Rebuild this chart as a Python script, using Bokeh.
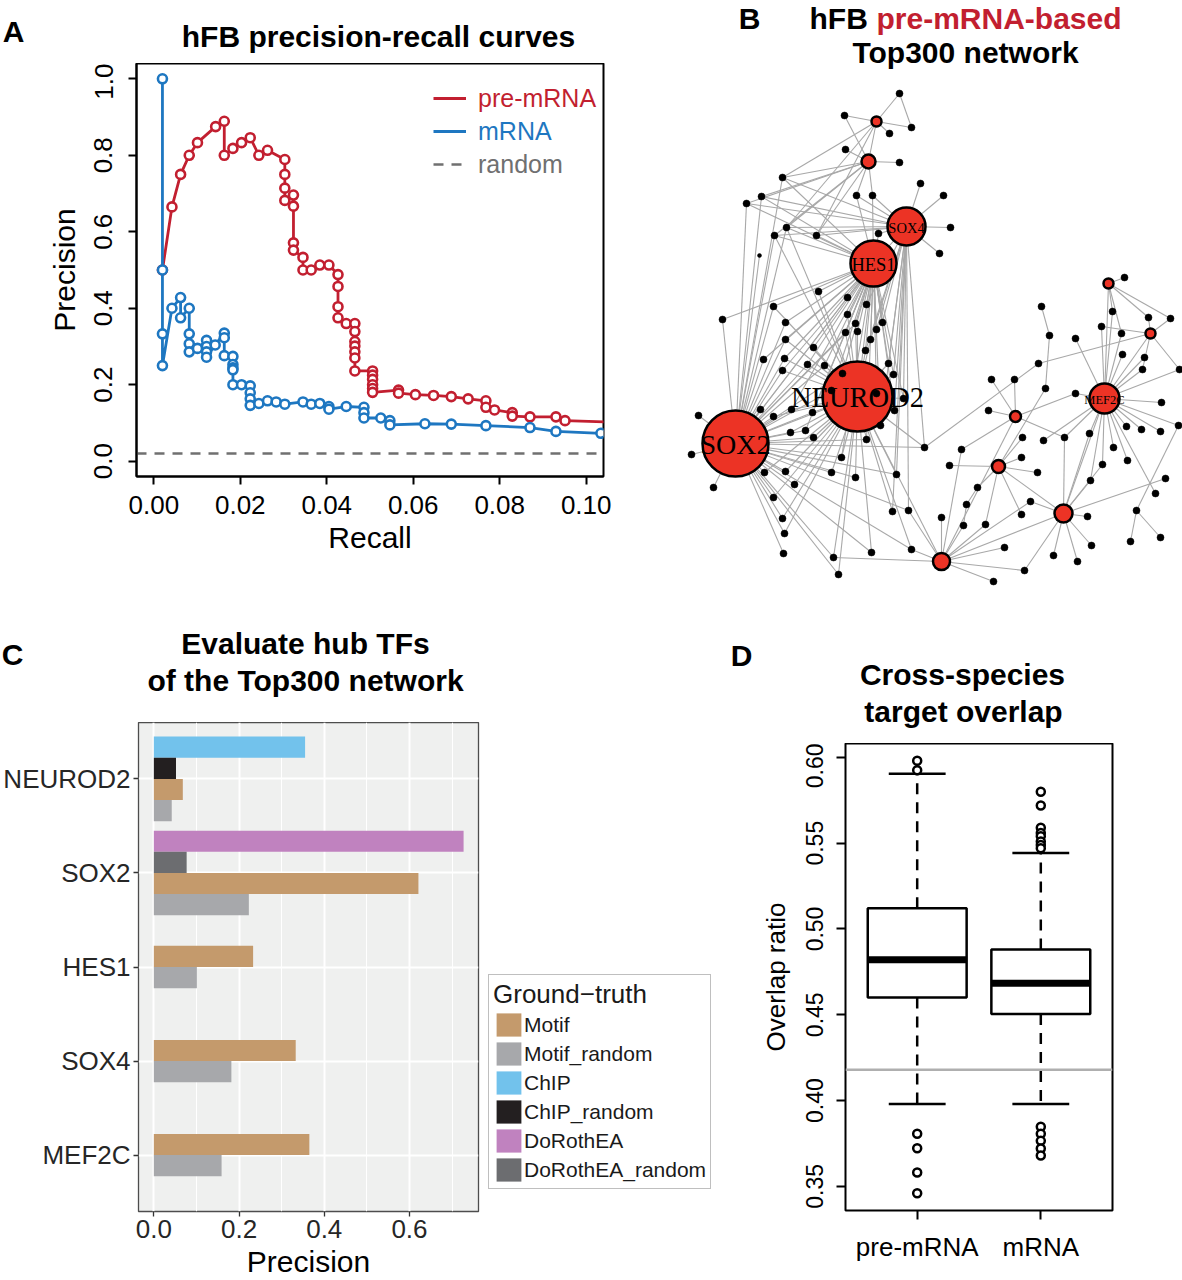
from bokeh.plotting import figure
from bokeh.layouts import row, column
from bokeh.models import (Range1d, FactorRange, FixedTicker, NumeralTickFormatter,
                          Legend, LegendItem, ColumnDataSource, Span)
from bokeh.core.properties import value
from bokeh.embed import file_html
from bokeh.resources import INLINE

SANS = "Liberation Sans"
SERIF = "Liberation Serif"
RED = "#C21F30"
BLUE = "#1E77C1"
GREY = "#707070"

# ---------------- Panel A data ----------------
pre_recall = [0.0020, 0.0042, 0.0062, 0.0082, 0.0101, 0.0143, 0.0163, 0.0163, 0.0183, 0.0203,
              0.0223, 0.0243, 0.0263, 0.0303, 0.0303, 0.0303, 0.0303, 0.0323, 0.0323, 0.0323,
              0.0323, 0.0345, 0.0345, 0.0364, 0.0384, 0.0405, 0.0426, 0.0426, 0.0426, 0.0426,
              0.0445, 0.0465, 0.0465, 0.0465, 0.0465, 0.0465, 0.0465, 0.0465, 0.0506, 0.0506,
              0.0506, 0.0506, 0.0506, 0.0506, 0.0566, 0.0566, 0.0605, 0.0647, 0.0688, 0.0727,
              0.0768, 0.0768, 0.0788, 0.0829, 0.0829, 0.0870, 0.0930, 0.0951, 0.1100]
pre_precision = [0.500, 0.665, 0.750, 0.800, 0.833, 0.875, 0.889, 0.800, 0.818, 0.833,
                 0.846, 0.800, 0.813, 0.789, 0.750, 0.714, 0.682, 0.696, 0.667, 0.571,
                 0.552, 0.533, 0.500, 0.500, 0.513, 0.513, 0.488, 0.457, 0.404, 0.375,
                 0.360, 0.360, 0.339, 0.313, 0.301, 0.286, 0.270, 0.236, 0.236, 0.225,
                 0.214, 0.200, 0.190, 0.180, 0.186, 0.178, 0.174, 0.172, 0.169, 0.163,
                 0.158, 0.141, 0.134, 0.127, 0.118, 0.116, 0.116, 0.106, 0.101]
mrna_recall = [0.0020, 0.0020, 0.0020, 0.0020, 0.0042, 0.0062, 0.0062, 0.0082, 0.0082, 0.0082,
               0.0082, 0.0101, 0.0122, 0.0122, 0.0122, 0.0122, 0.0142, 0.0163, 0.0163, 0.0163,
               0.0183, 0.0183, 0.0183, 0.0183, 0.0183, 0.0203, 0.0223, 0.0223, 0.0223, 0.0223,
               0.0243, 0.0263, 0.0283, 0.0303, 0.0345, 0.0364, 0.0384, 0.0405, 0.0405, 0.0445,
               0.0486, 0.0486, 0.0486, 0.0525, 0.0546, 0.0546, 0.0627, 0.0688, 0.0768, 0.0870,
               0.0930, 0.1034]
mrna_precision = [1.000, 0.500, 0.333, 0.250, 0.400, 0.428, 0.375, 0.400, 0.333, 0.307,
                  0.286, 0.295, 0.316, 0.300, 0.286, 0.272, 0.304, 0.335, 0.323, 0.276,
                  0.274, 0.253, 0.244, 0.239, 0.200, 0.200, 0.197, 0.179, 0.163, 0.146,
                  0.151, 0.158, 0.155, 0.149, 0.155, 0.149, 0.151, 0.143, 0.136, 0.143,
                  0.141, 0.127, 0.113, 0.113, 0.106, 0.095, 0.098, 0.097, 0.093, 0.088,
                  0.078, 0.073]
random_precision = 0.02
recall_ticks = [0.0, 0.02, 0.04, 0.06, 0.08, 0.10]
precision_ticks = [0.0, 0.2, 0.4, 0.6, 0.8, 1.0]
A_XMIN, A_XMAX = -0.004, 0.104
A_YMIN, A_YMAX = -0.04, 1.04

# ---------------- Panel B data (network layout) ----------------
hub_names = ["SOX2", "NEUROD2", "HES1", "SOX4", "MEF2C", "H_top1", "H_top2",
             "H_r1", "H_r2", "H_m1", "H_m2", "H_m3", "H_oxy"]
hub_x = [735, 857, 873, 906, 1104, 876, 868, 1108, 1150, 1015, 998, 1063, 941]
hub_y = [443, 396, 263, 226, 398, 121, 161, 283, 333, 416, 466, 513, 561]
hub_r = [33, 35, 23, 19, 15, 5, 7, 5, 5, 5.5, 6.5, 9, 8.5]
hub_text = ["SOX2", "NEUROD2", "HES1", "SOX4", "MEF2C"]
hub_text_px = [28, 28.5, 18.5, 14.5, 12.5]

sat_names = ["L1", "L2", "L3", "L4", "L5", "L6", "L7", "L8", "L9", "L10",
             "L11", "L12", "L13", "L14", "L15", "L16", "L17", "L18", "L19", "L20",
             "L21", "L22", "L23", "L24", "L25", "L26", "L27", "L28", "L29", "L30",
             "L31", "L32", "L33", "L34", "L35", "L36", "L37", "L38", "L39", "L40",
             "L41", "L42", "L43", "L44", "L45", "L46", "L47", "L48", "L49", "L50",
             "L51", "L52", "L53", "L54", "L55", "L56", "L57", "L58", "L59", "L60",
             "L61", "L62", "L63", "L64", "L65", "L66", "L67", "L68", "L69", "L70",
             "L71", "L72", "L73", "L74", "L75",
             "R1", "R2", "R3", "R4", "R5", "R6", "R7", "R8", "R9", "R10",
             "R11", "R12", "R13", "R14", "R15", "R16", "R17", "R18", "R19", "R20",
             "R21", "R22", "R23", "R24", "R25", "R26", "R27", "R28", "R29", "R30",
             "R31", "R32", "R33", "R34", "R35", "R36", "R37", "R38", "R39", "R40",
             "R41", "R42", "R43", "R44", "R45", "R46", "R47", "R48", "R49", "R50",
             "R51", "R52", "R53", "R54", "R55", "R56", "R57", "R58"]
sat_x = [899, 844, 911, 889, 845, 899, 782, 920, 761, 746,
         856, 872, 786, 774, 816, 878, 759, 818, 847, 866,
         773, 722, 847, 785, 855, 882, 876, 845, 857, 785,
         870, 763, 784, 813, 865, 807, 824, 782, 888, 893,
         842, 831, 876, 903, 894, 760, 791, 773, 812, 880,
         698, 790, 805, 813, 866, 924, 691, 841, 764, 785,
         831, 855, 896, 794, 713, 773, 892, 908, 782, 784,
         783, 833, 871, 911, 838,
         943, 950, 939, 1124, 1041, 1112, 1148, 1170, 1101, 1121,
         1049, 1075, 1122, 1144, 1038, 1142, 1179, 991, 1014, 1045,
         1075, 1161, 988, 1126, 1141, 1160, 1178, 1089, 1064, 1043,
         1022, 1113, 961, 1021, 1127, 949, 1102, 1037, 1090, 1165,
         1155, 977, 966, 1030, 1021, 1087, 1136, 941, 963, 985,
         1091, 1130, 1160, 1004, 1053, 1077, 1024, 993]
sat_y = [93, 115, 127, 133, 149, 162, 177, 183, 196, 203,
         195, 195, 227, 235, 235, 233, 255, 291, 297, 304,
         306, 319, 314, 322, 323, 322, 329, 332, 331, 339,
         339, 359, 358, 347, 350, 364, 365, 370, 363, 374,
         373, 390, 393, 398, 410, 409, 409, 416, 412, 425,
         415, 432, 430, 437, 439, 447, 454, 457, 472, 471,
         472, 477, 474, 484, 487, 497, 511, 510, 518, 533,
         553, 557, 552, 549, 574,
         195, 227, 253, 277, 306, 311, 317, 318, 326, 333,
         335, 338, 354, 357, 363, 369, 369, 379, 379, 388,
         393, 402, 410, 426, 429, 431, 425, 433, 437, 440,
         437, 447, 449, 457, 460, 465, 464, 472, 480, 478,
         493, 487, 504, 501, 514, 516, 510, 517, 525, 524,
         545, 541, 537, 547, 555, 561, 570, 581]

top1_targets = ["L1", "L2", "L3", "L4", "L7", "L13", "H_top2", "L15"]
top2_targets = ["L5", "L6", "L7", "L9", "L10", "L11", "L12", "L13", "L14", "L15", "L2"]
sox4_targets = ["L7", "L8", "L10", "L11", "L12", "L13", "L14", "L15", "L16", "R1", "R2", "R3",
                "L20", "L26", "L27", "L31", "L35", "L39", "L40", "L44", "L45", "L50", "L56",
                "L63", "L67", "L68", "L9"]
hes1_targets = ["L7", "L9", "L10", "L13", "L14", "L15", "L18", "L19", "L20", "L21", "L22", "L23",
                "L24", "L25", "L26", "L27", "L28", "L29", "L30", "L31", "L32", "L33", "L34", "L35",
                "L36", "L37", "L38", "L39", "L40", "L41", "L42", "L43", "L44", "L45", "L47", "L49",
                "L50", "L53", "L55", "L58", "L11", "L12", "L16", "NEUROD2", "SOX4"]
neurod2_targets = ["L18", "L23", "L25", "L28", "L29", "L30", "L31", "L33", "L34", "L35", "L36",
                   "L37", "L38", "L39", "L40", "L41", "L42", "L43", "L44", "L45", "L47", "L48",
                   "L49", "L50", "L52", "L53", "L54", "L55", "L56", "L58", "L59", "L60", "L61",
                   "L62", "L63", "L64", "L66", "L67", "L69", "L70", "L72", "L73", "L74", "L75",
                   "L21", "L13", "L14", "H_oxy"]
sox2_targets = ["L7", "L9", "L10", "L13", "L14", "L17", "L21", "L22", "L24", "L30", "L32", "L33",
                "L36", "L37", "L38", "L41", "L42", "L46", "L47", "L48", "L49", "L51", "L52", "L53",
                "L54", "L55", "L57", "L58", "L59", "L60", "L61", "L62", "L63", "L64", "L65", "L66",
                "L69", "L70", "L71", "L72", "L74", "L75", "L28", "L25", "L19", "L56", "L68", "L73",
                "NEUROD2", "HES1"]
mef2c_targets = ["R6", "R9", "R10", "R12", "R13", "R14", "R16", "R21", "R22", "R24", "R25", "R26",
                 "R27", "R28", "R29", "R30", "R32", "R35", "R37", "R39", "R41", "H_r1", "H_r2",
                 "H_m3", "R17"]
r1_targets = ["R4", "R7", "R8", "R10", "R6"]
r2_targets = ["R7", "R8", "R9", "R16", "R17", "R15"]
m1_targets = ["R18", "R19", "R23", "R21", "R29", "H_oxy", "R33"]
m2_targets = ["R31", "R34", "R36", "R38", "R45", "H_m3", "R50", "R20", "R42"]
m3_targets = ["R39", "R40", "R44", "R46", "R51", "R55", "R56", "R57", "H_oxy", "R28", "R29", "R37"]
oxy_targets = ["R48", "R50", "R54", "R57", "R58", "R44", "R33", "L72", "L74", "L68", "R49"]
extra_pairs = [("L1", "L3"), ("R5", "R11"), ("R11", "R20"), ("R27", "R47"), ("R47", "R52"),
               ("R47", "R53"), ("R42", "R43"), ("R43", "R49"), ("R15", "L56")]

# ---------------- Panel C data ----------------
tf_names = ["NEUROD2", "SOX2", "HES1", "SOX4", "MEF2C"]
motif_tf = ["NEUROD2", "SOX2", "HES1", "SOX4", "MEF2C"]
motif_prec = [0.068, 0.621, 0.233, 0.333, 0.365]
motif_random_prec = [0.042, 0.223, 0.101, 0.182, 0.159]
chip_tf = ["NEUROD2"]
chip_prec = [0.355]
chip_random_prec = [0.052]
dorothea_tf = ["SOX2"]
dorothea_prec = [0.727]
dorothea_random_prec = [0.077]
precision_c_ticks = [0.0, 0.2, 0.4, 0.6]

# ---------------- Panel D data ----------------
groups_d = ["pre-mRNA", "mRNA"]
q1_d = [0.460, 0.4504]
median_d = [0.482, 0.4683]
q3_d = [0.512, 0.4881]
whisk_lo_d = [0.398, 0.398]
whisk_hi_d = [0.5904, 0.5443]
out_pre = [0.598, 0.5925, 0.3806, 0.3722, 0.358, 0.346]
out_mrna = [0.580, 0.572, 0.559, 0.556, 0.554, 0.551, 0.549, 0.547,
            0.3847, 0.3806, 0.3765, 0.372, 0.368]
overlap_reference = 0.418
overlap_ticks = [0.35, 0.40, 0.45, 0.50, 0.55, 0.60]

# ---------------- Titles ----------------
title_a = "hFB precision-recall curves"
title_b1 = "hFB"
title_b1_red = "pre-mRNA-based"
title_b2 = "Top300 network"
title_c = ["Evaluate hub TFs", "of the Top300 network"]
title_d = ["Cross-species", "target overlap"]


def style_axis(ax, lab_px, tick_px, color="black", tick_len=8, lw=2.0, standoff=6,
               lab_standoff=10):
    ax.major_label_text_font = SANS
    ax.major_label_text_font_size = f"{tick_px}px"
    ax.major_label_text_color = color
    ax.axis_label_text_font = SANS
    ax.axis_label_text_font_size = f"{lab_px}px"
    ax.axis_label_text_font_style = "normal"
    ax.axis_label_text_color = "black"
    ax.major_tick_out = tick_len
    ax.major_tick_in = 0
    ax.major_tick_line_width = lw
    ax.major_tick_line_color = color
    ax.minor_tick_line_color = None
    ax.axis_line_width = lw
    ax.axis_line_color = color
    ax.major_label_standoff = standoff
    ax.axis_label_standoff = lab_standoff


def pixel_canvas(width, height, x0, y0):
    """A figure whose frame fills the canvas; data coordinates are page pixels."""
    p = figure(width=width, height=height, x_range=Range1d(x0, x0 + width),
               y_range=Range1d(y0 + height, y0), toolbar_location=None, output_backend="svg",
               title=None, x_axis_location=None, y_axis_location=None, frame_align=False,
               min_border_left=0, min_border_right=0, min_border_top=0, min_border_bottom=0)
    p.grid.visible = False
    p.outline_line_color = None
    return p


def put_text(p, x, y, text, size=30, color="black", align="center", bold=True, font=SANS):
    p.text(x=[x], y=[y], text=[text], text_font=value(font), text_font_size=f"{size}px",
           text_font_style="bold" if bold else "normal", text_color=color,
           text_align=align, text_baseline="middle")


# ======================= Panel A =======================
tA = pixel_canvas(660, 63, 0, 0)
put_text(tA, 13, 31, "A")
put_text(tA, 378, 36, title_a)

pA = figure(width=660, height=537, x_range=Range1d(A_XMIN, A_XMAX),
            y_range=Range1d(A_YMIN, A_YMAX), toolbar_location=None, output_backend="svg",
            title=None, frame_align=False,
            min_border_left=136, min_border_right=57, min_border_top=0, min_border_bottom=124)
pA.grid.visible = False
pA.outline_line_color = "black"
pA.outline_line_width = 2
pA.xaxis.ticker = FixedTicker(ticks=recall_ticks)
pA.xaxis.formatter = NumeralTickFormatter(format="0.00")
pA.yaxis.ticker = FixedTicker(ticks=precision_ticks)
pA.yaxis.formatter = NumeralTickFormatter(format="0.0")
pA.xaxis.axis_label = "Recall"
pA.yaxis.axis_label = "Precision"
style_axis(pA.xaxis, 30, 26, standoff=11, lab_standoff=4)
style_axis(pA.yaxis, 30, 26, standoff=16, lab_standoff=11)
pA.yaxis.major_label_orientation = "vertical"

r_rand = pA.line(x=[A_XMIN, A_XMAX], y=[random_precision, random_precision], line_color=GREY,
                 line_width=2.6, line_dash="10 8")
r_pre = pA.line(pre_recall, pre_precision, line_color=RED, line_width=2.8)
pA.scatter(pre_recall, pre_precision, marker="circle", size=9, fill_color="white",
           line_color=RED, line_width=2.6)
r_mrna = pA.line(mrna_recall, mrna_precision, line_color=BLUE, line_width=2.8)
pA.scatter(mrna_recall, mrna_precision, marker="circle", size=9, fill_color="white",
           line_color=BLUE, line_width=2.6)

A_FRAME_BOTTOM = 476
for rend, lab, col, cy in [(r_pre, "pre-mRNA", RED, 98), (r_mrna, "mRNA", BLUE, 131),
                           (r_rand, "random", GREY, 164)]:
    lg = Legend(items=[LegendItem(label=lab, renderers=[rend])],
                location=(433 - 136, A_FRAME_BOTTOM - cy - 15),
                border_line_color=None, background_fill_alpha=0, padding=0, margin=0,
                glyph_width=33, glyph_height=30, label_standoff=12,
                label_text_font=SANS, label_text_font_size="25px", label_text_color=col,
                label_height=30)
    pA.add_layout(lg, "center")

# ======================= Panel B =======================
pB = pixel_canvas(522, 600, 660, 0)

pos = {}
for n, x, y in zip(hub_names, hub_x, hub_y):
    pos[n] = (x, y)
for n, x, y in zip(sat_names, sat_x, sat_y):
    pos[n] = (x, y)

edge_pairs = []
for hub, targets in [("H_top1", top1_targets), ("H_top2", top2_targets), ("SOX4", sox4_targets),
                     ("HES1", hes1_targets), ("NEUROD2", neurod2_targets), ("SOX2", sox2_targets),
                     ("MEF2C", mef2c_targets), ("H_r1", r1_targets), ("H_r2", r2_targets),
                     ("H_m1", m1_targets), ("H_m2", m2_targets), ("H_m3", m3_targets),
                     ("H_oxy", oxy_targets)]:
    for t in targets:
        edge_pairs.append((hub, t))
edge_pairs += extra_pairs

edges = ColumnDataSource(dict(
    x0=[pos[a][0] for a, b in edge_pairs], y0=[pos[a][1] for a, b in edge_pairs],
    x1=[pos[b][0] for a, b in edge_pairs], y1=[pos[b][1] for a, b in edge_pairs]))
pB.segment("x0", "y0", "x1", "y1", source=edges, line_color="#A8A8A8", line_width=1.1)

hubs = ColumnDataSource(dict(x=hub_x, y=hub_y, s=[2 * r for r in hub_r]))
pB.scatter("x", "y", size="s", source=hubs, marker="circle", fill_color="#EC3325",
           line_color="black", line_width=2.5)
sat_size = [4 if n == "L17" else 7 for n in sat_names]
pB.scatter(sat_x, sat_y, size=sat_size, marker="circle", fill_color="black", line_color="black",
           line_width=0.5)
labels_b = ColumnDataSource(dict(x=hub_x[:5], y=[v + 1 for v in hub_y[:5]], t=hub_text,
                                 fs=[f"{v}px" for v in hub_text_px]))
pB.text("x", "y", text="t", source=labels_b, text_font=value(SERIF), text_font_size="fs",
        text_align="center", text_baseline="middle", text_color="black")

put_text(pB, 749, 18, "B")
put_text(pB, 809, 18, title_b1, align="left")
put_text(pB, 876, 18, title_b1_red, color=RED, align="left")
put_text(pB, 965, 52, title_b2)

# ======================= Panel C =======================
tC = pixel_canvas(725, 122, 0, 600)
put_text(tC, 12, 654, "C")
put_text(tC, 305, 643, title_c[0])
put_text(tC, 305, 680, title_c[1])

y_factors = list(reversed(tf_names))
pC = figure(width=485, height=558, x_range=Range1d(-0.036, 0.762),
            y_range=FactorRange(factors=y_factors, range_padding=0.1, range_padding_units="absolute"),
            toolbar_location=None, output_backend="svg", title=None, frame_align=False,
            min_border_left=136, min_border_right=7, min_border_top=0, min_border_bottom=68)
pC.background_fill_color = "#EFF0EF"
pC.outline_line_color = "#4D4D4D"
pC.outline_line_width = 1.3
pC.xaxis.ticker = FixedTicker(ticks=precision_c_ticks, minor_ticks=[0.1, 0.3, 0.5, 0.7])
pC.xaxis.formatter = NumeralTickFormatter(format="0.0")
pC.xgrid.grid_line_color = "white"
pC.xgrid.grid_line_width = 2
pC.xgrid.minor_grid_line_color = "white"
pC.xgrid.minor_grid_line_width = 1
pC.ygrid.grid_line_color = "white"
pC.ygrid.grid_line_width = 2
pC.xaxis.axis_label = "Precision"
style_axis(pC.xaxis, 30, 26, color="#333333", tick_len=5, lw=1.3, standoff=3, lab_standoff=4)
style_axis(pC.yaxis, 30, 26, color="#333333", tick_len=5, lw=1.3, standoff=3, lab_standoff=2)
pC.xaxis.axis_line_color = None
pC.yaxis.axis_line_color = None
pC.xaxis.major_label_text_color = "#262626"
pC.yaxis.major_label_text_color = "#262626"

# legend canvas to the right of panel C's frame (page pixel coordinates)
pLeg = pixel_canvas(240, 558, 485, 722)

bar_h = 0.225
dodge_rank = {"ChIP": 0, "DoRothEA": 0, "ChIP_random": 1, "DoRothEA_random": 1,
              "Motif": 2, "Motif_random": 3}
series_c = [("Motif", motif_tf, motif_prec, "#C49A6C"),
            ("Motif_random", motif_tf, motif_random_prec, "#A7A8AB"),
            ("ChIP", chip_tf, chip_prec, "#72C2EC"),
            ("ChIP_random", chip_tf, chip_random_prec, "#231F20"),
            ("DoRothEA", dorothea_tf, dorothea_prec, "#C082BF"),
            ("DoRothEA_random", dorothea_tf, dorothea_random_prec, "#6C6D70")]
present = {tf: [] for tf in tf_names}
for name, tfs, vals, col in series_c:
    for tf in tfs:
        present[tf].append(name)
for tf in tf_names:
    present[tf].sort(key=lambda s: dodge_rank[s])

items_c = []
for name, tfs, vals, col in series_c:
    ys = []
    for tf in tfs:
        members = present[tf]
        i = members.index(name)
        ys.append((tf, ((len(members) - 1) / 2 - i) * bar_h))
    src = ColumnDataSource(dict(y=ys, v=vals))
    pC.hbar(y="y", left=0, right="v", height=bar_h, source=src, fill_color=col,
            line_color=None)
    # hidden twin renderer on the legend canvas, used only for the legend key
    leg_src = ColumnDataSource(dict(y=list(range(len(vals))), v=vals))
    r_leg = pLeg.hbar(y="y", left=0, right="v", height=bar_h, source=leg_src, fill_color=col,
                      line_color=None, visible=False)
    items_c.append(LegendItem(label=name, renderers=[r_leg]))

legC = Legend(items=items_c, title="Ground\u2212truth", location=(3, 91),
              border_line_color="#7F7F7F", border_line_width=1.2, background_fill_color="white",
              padding=4, margin=0, spacing=0, glyph_width=31, glyph_height=29, label_standoff=0,
              label_text_font=SANS, label_text_font_size="21px", label_text_color="#1a1a1a",
              title_text_font=SANS, title_text_font_size="26px", title_text_font_style="normal",
              title_text_color="#1a1a1a", title_standoff=0, label_height=29)
pLeg.add_layout(legC, "center")

# ======================= Panel D =======================
tD = pixel_canvas(457, 143, 725, 600)
put_text(tD, 741, 655, "D")
put_text(tD, 962, 674, title_d[0])
put_text(tD, 963, 711, title_d[1])

pD = figure(width=457, height=537, x_range=Range1d(0.42, 2.58), y_range=Range1d(0.3359, 0.6081),
            toolbar_location=None, output_backend="svg", title=None, frame_align=False,
            min_border_left=120, min_border_right=70, min_border_top=0, min_border_bottom=70)
pD.grid.visible = False
pD.outline_line_color = "black"
pD.outline_line_width = 2
xpos_d = [1, 2]
pD.xaxis.ticker = FixedTicker(ticks=xpos_d)
pD.xaxis.major_label_overrides = {1: groups_d[0], 2: groups_d[1]}
pD.yaxis.ticker = FixedTicker(ticks=overlap_ticks)
pD.yaxis.formatter = NumeralTickFormatter(format="0.00")
pD.yaxis.axis_label = "Overlap ratio"
style_axis(pD.xaxis, 26, 26, tick_len=9, lw=2, standoff=12, lab_standoff=6)
style_axis(pD.yaxis, 26, 23, tick_len=9, lw=2, standoff=13, lab_standoff=13)
pD.yaxis.major_label_orientation = "vertical"
pD.xaxis.axis_line_color = None
pD.yaxis.axis_line_color = None

pD.add_layout(Span(location=overlap_reference, dimension="width", line_color="#AFAFAF",
                   line_width=2.5))
box_w = 0.8
cap_half = 0.23
pD.segment(x0=xpos_d, y0=q3_d, x1=xpos_d, y1=whisk_hi_d, line_color="black", line_width=2.5,
           line_dash="11 8")
pD.segment(x0=xpos_d, y0=q1_d, x1=xpos_d, y1=whisk_lo_d, line_color="black", line_width=2.5,
           line_dash="11 8")
pD.segment(x0=[x - cap_half for x in xpos_d], y0=whisk_hi_d, x1=[x + cap_half for x in xpos_d],
           y1=whisk_hi_d, line_color="black", line_width=2.5)
pD.segment(x0=[x - cap_half for x in xpos_d], y0=whisk_lo_d, x1=[x + cap_half for x in xpos_d],
           y1=whisk_lo_d, line_color="black", line_width=2.5)
pD.vbar(x=xpos_d, bottom=q1_d, top=q3_d, width=box_w, fill_color="white", line_color="black",
        line_width=2.5)
pD.segment(x0=[x - box_w / 2 for x in xpos_d], y0=median_d, x1=[x + box_w / 2 for x in xpos_d],
           y1=median_d, line_color="black", line_width=7)
pD.scatter([xpos_d[0]] * len(out_pre), out_pre, marker="circle", size=8, fill_color="white",
           line_color="black", line_width=2.5)
pD.scatter([xpos_d[1]] * len(out_mrna), out_mrna, marker="circle", size=8, fill_color="white",
           line_color="black", line_width=2.5)

layout = column(row(column(tA, pA), pB),
                row(column(tC, row(pC, pLeg)), column(tD, pD)))
open("out.html", "w").write(file_html(layout, INLINE))
